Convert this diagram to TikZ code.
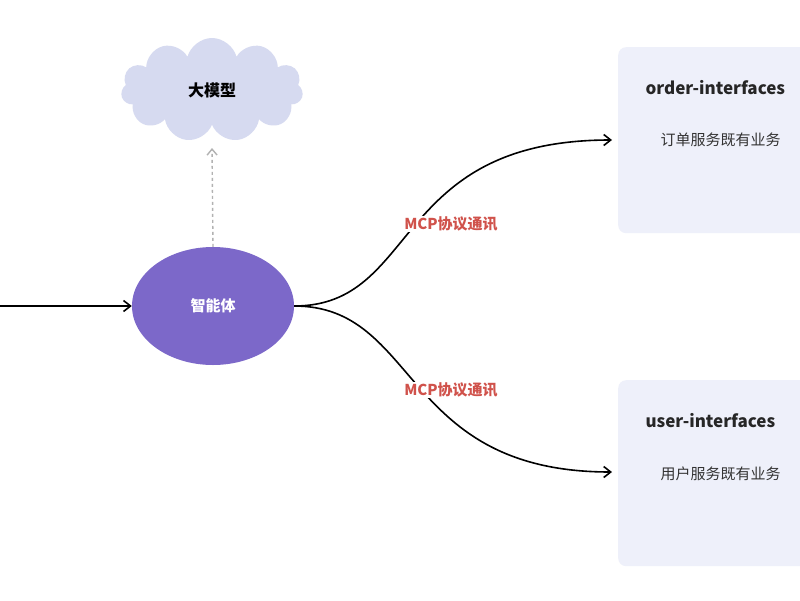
\documentclass[tikz,border=0pt]{standalone}
\usepackage{fontspec}
\setmainfont{Noto Sans CJK SC}
\usetikzlibrary{shapes.symbols,shapes.geometric,arrows.meta}
\definecolor{cloudc}{HTML}{D6DAF0}
\definecolor{agent}{HTML}{7C68C9}
\definecolor{boxc}{HTML}{EEF0FA}
\definecolor{mcp}{HTML}{D0524B}
\begin{document}
\begin{tikzpicture}[x=1pt,y=-1pt,
  conn/.style={line width=1.6pt,-{Straight Barb[length=7pt,width=11pt]}},
  lbl/.style={text=mcp,font=\bfseries\fontsize{15}{15}\selectfont,fill=white,inner sep=1pt},
  box/.style={fill=boxc,rounded corners=8pt,draw=none},
  ttl/.style={anchor=west,font=\bfseries\fontsize{17}{17}\selectfont,text=black!85},
  desc/.style={anchor=west,font=\fontsize{15}{15}\selectfont,text=black!80}]
\fill[white] (0,0) rectangle (800,600);
\useasboundingbox (0,0) rectangle (800,600);
\clip (0,0) rectangle (800,600);
\node[box,minimum width=200pt,minimum height=186pt,anchor=north west] (b1) at (618,47) {};
\node[box,minimum width=200pt,minimum height=186pt,anchor=north west] (b2) at (618,380) {};
\node[ttl] (t1) at (642,88) {order-interfaces};
\node[desc] (d1) at (657,140) {订单服务既有业务};
\node[ttl] (t2) at (642,421) {user-interfaces};
\node[desc] (d2) at (657,474) {用户服务既有业务};
\node[cloud,cloud puffs=11,aspect=1.9,fill=cloudc,minimum width=182pt,minimum height=104pt,font=\bfseries\fontsize{16}{16}\selectfont] (llm) at (212,90) {大模型};
\node[ellipse,fill=agent,minimum width=162pt,minimum height=118pt,text=white,font=\bfseries\fontsize{15}{15}\selectfont] (ag) at (213,306) {智能体};
\coordinate (in) at (0,306);
\coordinate (p1) at (612,140);
\coordinate (p2) at (612,472);
\draw[conn] (in) -- (ag.west);
\draw[gray!60,line width=1.4pt,dashed,-{Straight Barb[length=6pt,width=10pt]}] (ag.north) -- (212,148);
\draw[conn] (ag.east) .. controls (420,306) and (390,140) .. (p1);
\draw[conn] (ag.east) .. controls (420,306) and (400,472) .. (p2);
\node[lbl] (m1) at (451,224) {MCP协议通讯};
\node[lbl] (m2) at (451,390) {MCP协议通讯};
\end{tikzpicture}
\end{document}
